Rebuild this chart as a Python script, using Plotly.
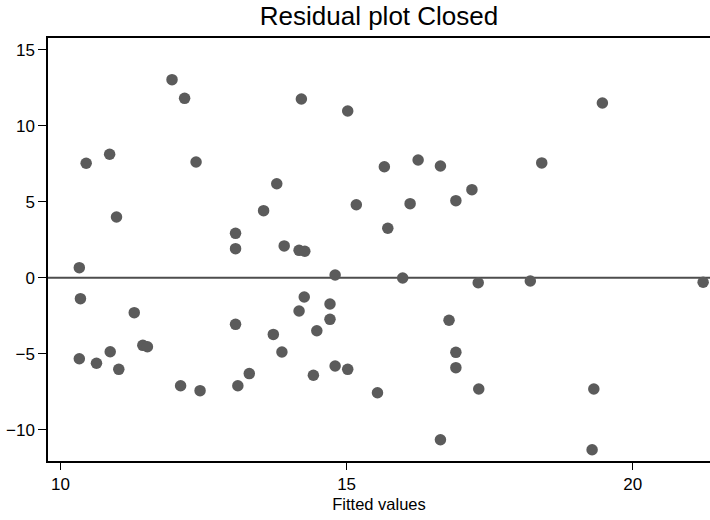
import plotly.graph_objects as go

# Fitted values and residuals from the regression on the closed sample
fitted = [
    11.95, 12.17, 14.21, 15.02, 10.45, 10.86, 12.37, 13.78, 10.98, 13.55,
    15.17, 13.06, 13.06, 13.91, 14.17, 14.27, 10.33, 14.80, 15.66, 16.25,
    16.64, 19.47, 18.41, 16.11, 16.91, 17.19, 15.72, 15.98, 17.30, 18.21,
    21.23, 10.35, 11.29, 10.33, 10.63, 10.87, 11.02, 11.44, 11.52, 12.10,
    12.44, 13.06, 13.10, 13.30, 13.72, 13.87, 14.17, 14.26, 14.48, 14.42,
    14.71, 14.71, 14.80, 15.02, 15.54, 16.79, 16.91, 16.91, 17.31, 16.64,
    19.32, 19.29,
]
residuals = [
    13.03, 11.80, 11.76, 10.97, 7.53, 8.12, 7.61, 6.18, 3.99, 4.41,
    4.80, 2.92, 1.91, 2.09, 1.80, 1.74, 0.66, 0.18, 7.30, 7.74,
    7.35, 11.49, 7.55, 4.87, 5.07, 5.79, 3.25, -0.02, -0.33, -0.22,
    -0.30, -1.38, -2.30, -5.33, -5.63, -4.87, -6.03, -4.45, -4.54, -7.11,
    -7.43, -3.07, -7.11, -6.31, -3.73, -4.89, -2.19, -1.27, -3.49, -6.42,
    -1.73, -2.74, -5.81, -6.03, -7.57, -2.80, -4.91, -5.92, -7.32, -10.66,
    -7.32, -11.32,
]
x_ticks = [10, 15, 20]
y_ticks = [-10, -5, 0, 5, 10, 15]

FONT = "Liberation Sans, Arial, Helvetica, sans-serif"

fig = go.Figure()
fig.add_trace(go.Scatter(
    x=fitted, y=residuals, mode="markers",
    marker=dict(color="#5b5b5b", size=11.5, line=dict(width=0)),
    cliponaxis=False, showlegend=False,
))

# Reference line at zero residual
fig.add_hline(y=0, line=dict(color="#4d4d4d", width=2), layer="below")

fig.update_layout(
    width=710, height=520,
    margin=dict(l=48, r=0, t=38, b=59),
    paper_bgcolor="white", plot_bgcolor="white",
    font=dict(family=FONT, size=17, color="black"),
    title=dict(text="Residual plot Closed", font=dict(size=26, color="black"),
               x=0.5, xref="paper", xanchor="center",
               y=1, yref="container", yanchor="top", pad=dict(t=7)),
    xaxis=dict(
        range=[9.783, 21.35], tickvals=x_ticks, ticks="outside", ticklen=7,
        tickwidth=1.2, tickcolor="black", showgrid=False, zeroline=False,
        showline=True, linecolor="black", linewidth=1.5, mirror=True,
        title=dict(text="Fitted values", font=dict(size=16.5), standoff=5),
    ),
    yaxis=dict(
        range=[-12.06, 15.77], tickvals=y_ticks, ticks="outside", ticklen=8,
        tickwidth=1.2, tickcolor="black", showgrid=False, zeroline=False,
        showline=True, linecolor="black", linewidth=1.5,
    ),
)

fig.write_html("out.html")
